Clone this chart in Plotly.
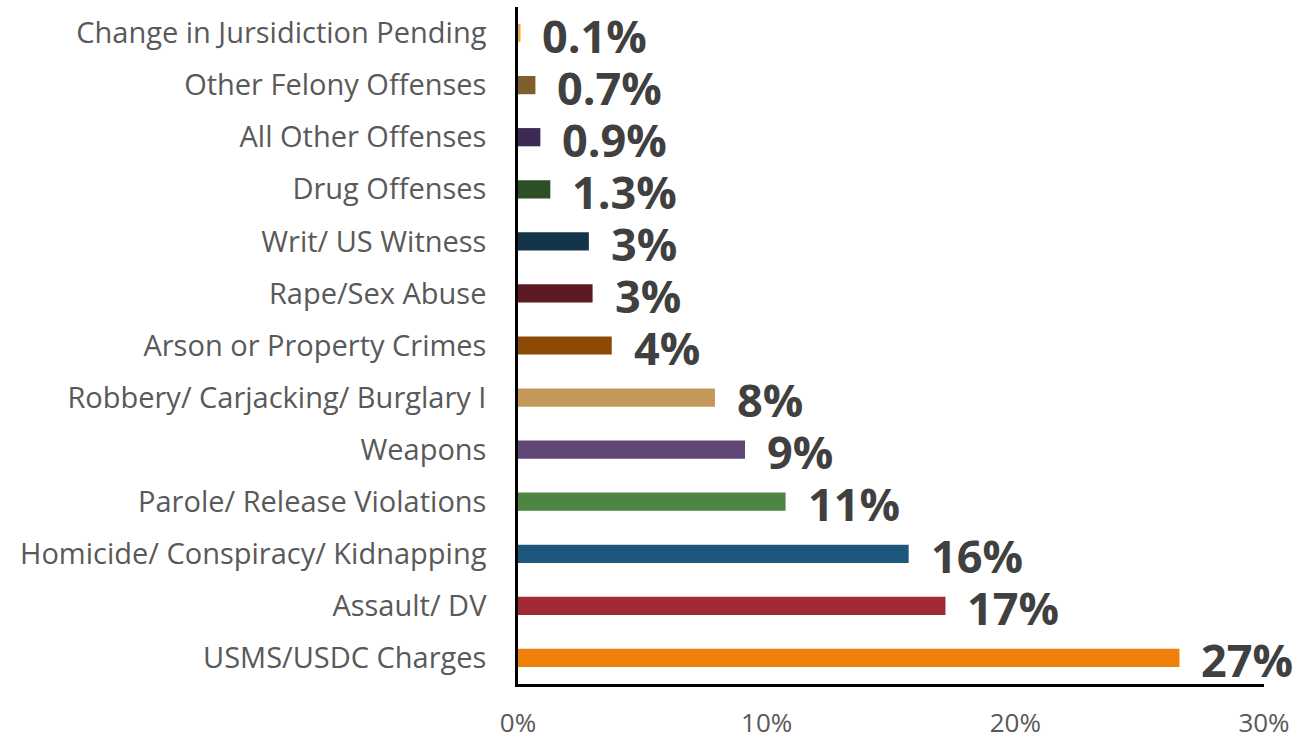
import plotly.graph_objects as go

# Offense categories, listed top to bottom
categories = [
    "Change in Jursidiction Pending",
    "Other Felony Offenses",
    "All Other Offenses",
    "Drug Offenses",
    "Writ/ US Witness",
    "Rape/Sex Abuse",
    "Arson or Property Crimes",
    "Robbery/ Carjacking/ Burglary I",
    "Weapons",
    "Parole/ Release Violations",
    "Homicide/ Conspiracy/ Kidnapping",
    "Assault/ DV",
    "USMS/USDC Charges",
]

# Share of population by top charge (percent)
shares = [0.1, 0.7, 0.9, 1.3, 2.85, 3.0, 3.77, 7.92, 9.13, 10.76, 15.71, 17.19, 26.6]

bar_colors = [
    "#F5A640", "#7F5F2E", "#3D2B56", "#2E4F26", "#143449", "#5C1B22", "#8C4A02",
    "#C39858", "#5F4878", "#4E8542", "#1E577C", "#A12935", "#EF800B",
]

x_ticks = [0, 10, 20, 30]
x_tick_labels = ["0%", "10%", "20%", "30%"]


def share_label(v):
    # small shares keep one decimal, the rest are shown as whole percents
    return f"{v:.1f}%" if v < 2 else f"{v:.0f}%"


fig = go.Figure(
    go.Bar(
        x=shares,
        y=categories,
        orientation="h",
        width=0.35,
        marker=dict(color=bar_colors, line=dict(width=0)),
        hoverinfo="skip",
    )
)

for cat, v in zip(categories, shares):
    fig.add_annotation(
        x=v, y=cat, xref="x", yref="y",
        text=share_label(v), showarrow=False,
        xanchor="left", yanchor="middle", xshift=20, yshift=-2,
        font=dict(family="Open Sans", size=45, color="#404040", weight="bold"),
    )

fig.update_layout(
    width=1300, height=742,
    margin=dict(l=518, r=36, t=7, b=58),
    paper_bgcolor="white", plot_bgcolor="white",
    showlegend=False,
    font=dict(family="Open Sans"),
)

fig.update_xaxes(
    range=[0, 30], tickvals=x_ticks, ticktext=x_tick_labels,
    showgrid=False, zeroline=False, automargin=False,
    showline=True, linecolor="black", linewidth=2.5,
    ticks="", ticklabelstandoff=14,
    tickfont=dict(family="Open Sans", size=26, color="#595959"),
)

fig.update_yaxes(
    range=[12.5, -0.5], showgrid=False, zeroline=False, automargin=False,
    showline=True, linecolor="black", linewidth=2.5,
    ticks="", ticklabelstandoff=23,
    tickfont=dict(family="Open Sans", size=29, color="#595959"),
)

fig.write_html("out.html")
